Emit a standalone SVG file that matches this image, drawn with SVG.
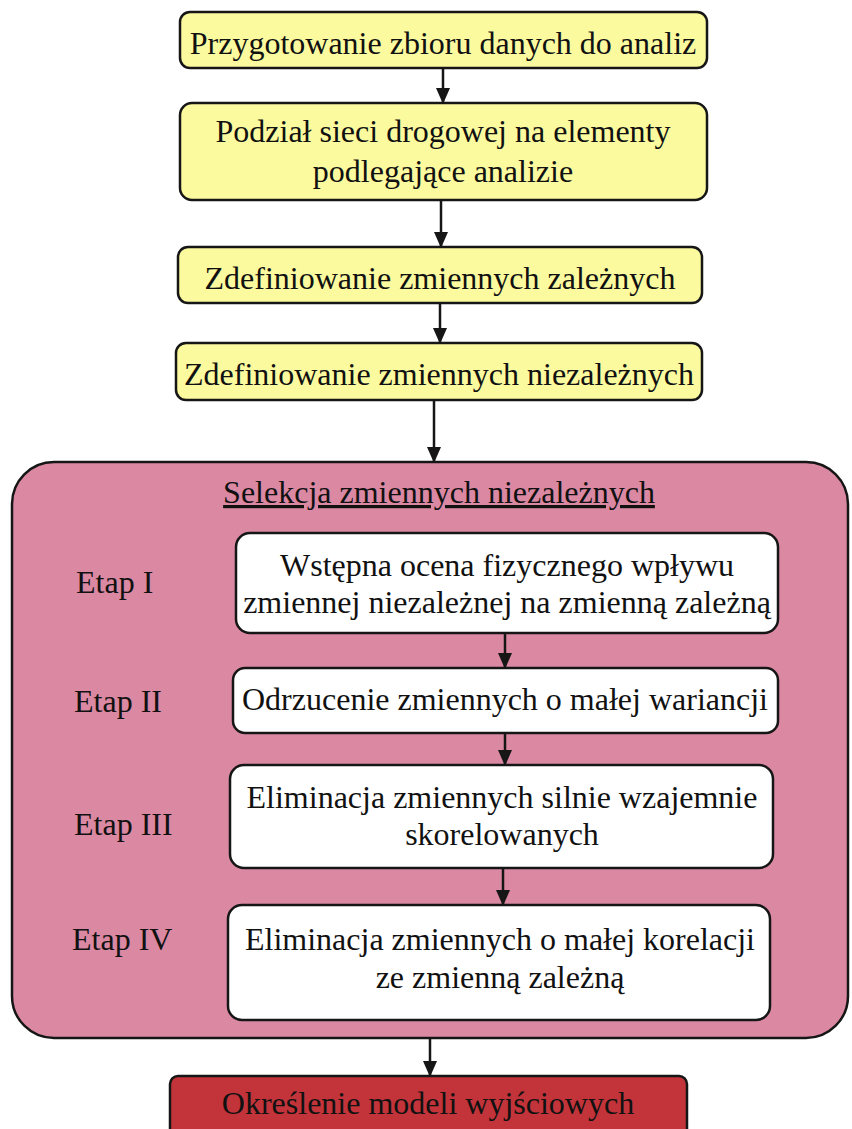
<svg xmlns="http://www.w3.org/2000/svg" width="852" height="1129" viewBox="0 0 852 1129">
<style>
.t{font-family:"Liberation Serif","Times New Roman",serif;font-size:32px;fill:#111;text-anchor:middle}
.e{font-family:"Liberation Serif","Times New Roman",serif;font-size:32px;fill:#111}
.y{fill:#fcfa9e;stroke:#161616;stroke-width:2.5}
.w{fill:#ffffff;stroke:#161616;stroke-width:2.5}
.c{stroke:#161616;stroke-width:2.5;fill:none}
</style>
<defs>
<marker id="ah" markerUnits="userSpaceOnUse" markerWidth="16" markerHeight="14" viewBox="0 0 16 14" refX="15" refY="7" orient="auto">
<path d="M0,0 L16,7 L0,14 Z" fill="#161616"/>
</marker>
</defs>
<rect width="852" height="1129" fill="#ffffff"/>
<g id="n1"><rect class="y" x="180" y="12" width="527" height="56" rx="10"/><text class="t" x="443" y="54">Przygotowanie zbioru danych do analiz</text></g>
<g id="n2"><rect class="y" x="180" y="103" width="527" height="97" rx="12"/><text class="t" x="443" y="142">Podział sieci drogowej na elementy</text><text class="t" x="443" y="182">podlegające analizie</text></g>
<g id="n3"><rect class="y" x="178" y="247" width="524" height="56" rx="10"/><text class="t" x="440" y="289">Zdefiniowanie zmiennych zależnych</text></g>
<g id="n4"><rect class="y" x="176" y="343" width="526" height="57" rx="10"/><text class="t" x="439" y="385">Zdefiniowanie zmiennych niezależnych</text></g>
<g id="sel"><rect x="12" y="462" width="836" height="576" rx="42" fill="#db88a3" stroke="#161616" stroke-width="2.5"/><text class="t" x="439" y="503" text-decoration="underline">Selekcja zmiennych niezależnych</text></g>
<g id="lab">
<text class="e" x="76" y="593">Etap I</text>
<text class="e" x="74" y="712">Etap II</text>
<text class="e" x="74" y="835">Etap III</text>
<text class="e" x="72" y="950">Etap IV</text>
</g>
<g id="s1"><rect class="w" x="236" y="533" width="542" height="100" rx="14"/><text class="t" x="507" y="576">Wstępna ocena fizycznego wpływu</text><text class="t" x="507" y="613">zmiennej niezależnej na zmienną zależną</text></g>
<g id="s2"><rect class="w" x="233" y="668" width="545" height="65" rx="12"/><text class="t" x="505" y="710">Odrzucenie zmiennych o małej wariancji</text></g>
<g id="s3"><rect class="w" x="230" y="765" width="543" height="103" rx="14"/><text class="t" x="502" y="808">Eliminacja zmiennych silnie wzajemnie</text><text class="t" x="502" y="845">skorelowanych</text></g>
<g id="s4"><rect class="w" x="228" y="905" width="542" height="115" rx="14"/><text class="t" x="500" y="950">Eliminacja zmiennych o małej korelacji</text><text class="t" x="500" y="988">ze zmienną zależną</text></g>
<g id="out"><rect x="170" y="1076" width="517" height="64" rx="8" fill="#c2343a" stroke="#161616" stroke-width="2.5"/><text class="t" x="428" y="1114">Określenie modeli wyjściowych</text></g>
<g id="connectors">
<line class="c" x1="443" y1="68" x2="443" y2="103" marker-end="url(#ah)"/>
<line class="c" x1="441" y1="200" x2="441" y2="247" marker-end="url(#ah)"/>
<line class="c" x1="440" y1="303" x2="440" y2="343" marker-end="url(#ah)"/>
<line class="c" x1="434" y1="400" x2="434" y2="462" marker-end="url(#ah)"/>
<line class="c" x1="505" y1="633" x2="505" y2="668" marker-end="url(#ah)"/>
<line class="c" x1="505" y1="733" x2="505" y2="765" marker-end="url(#ah)"/>
<line class="c" x1="503" y1="868" x2="503" y2="905" marker-end="url(#ah)"/>
<line class="c" x1="430" y1="1038" x2="430" y2="1076" marker-end="url(#ah)"/>
</g>
</svg>
